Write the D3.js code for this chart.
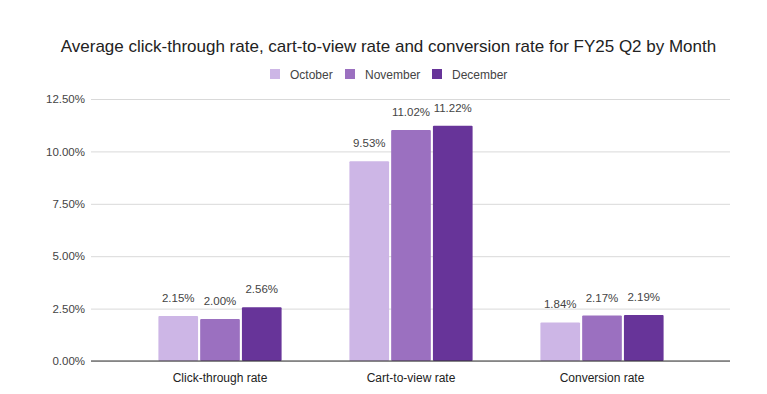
<!DOCTYPE html>
<html><head><meta charset="utf-8">
<script src="https://cdn.jsdelivr.net/npm/d3@7"></script>
<style>body{margin:0;background:#fff;} svg text{font-family:"Liberation Sans",Arial,sans-serif;}</style>
</head><body><svg id="c" width="767" height="394"></svg>
<script>
const categories = ["Click-through rate", "Cart-to-view rate", "Conversion rate"];
const seriesNames = ["October", "November", "December"];
const october = [2.15, 9.53, 1.84];
const november = [2.00, 11.02, 2.17];
const december = [2.56, 11.22, 2.19];
const seriesColors = ["#cdb6e6", "#9b70c0", "#673499"];
const yTicks = [0, 2.5, 5, 7.5, 10, 12.5];
const title = "Average click-through rate, cart-to-view rate and conversion rate for FY25 Q2 by Month";

const values = [october, november, december];
const svg = d3.select("#c");
const W = 767, H = 394;
svg.append("rect").attr("width", W).attr("height", H).attr("fill", "#fff");

const y = d3.scaleLinear().domain([0, 12.5]).range([361, 99]);
const gridX0 = 91, gridX1 = 730;
const x0 = d3.scaleBand().domain(categories).range([124.5, 697.5]).paddingInner(0.355).paddingOuter(0.1775);
const x1 = d3.scaleBand().domain(seriesNames).range([0, x0.bandwidth()]).paddingInner(0.05);

// gridlines
const yAxis = d3.axisLeft(y).tickValues(yTicks).tickFormat(d => d3.format(".2f")(d) + "%").tickSize(-(gridX1 - gridX0)).tickPadding(6);
const ga = svg.append("g").attr("transform", `translate(${gridX0},0)`).call(yAxis);
ga.select(".domain").remove();
ga.selectAll(".tick line").attr("stroke", "#d9d9d9").attr("stroke-width", 1);
ga.selectAll(".tick text").attr("fill", "#444").style("font-size", "11.5px").style("font-family", "'Liberation Sans', Arial, sans-serif");

// bars
const groups = svg.append("g").selectAll("g").data(categories).join("g")
  .attr("transform", d => `translate(${x0(d)},0)`);
groups.selectAll("rect").data((c, i) => seriesNames.map((s, j) => ({s, v: values[j][i], j})))
  .join("rect")
  .attr("x", d => x1(d.s)).attr("width", x1.bandwidth())
  .attr("y", d => y(d.v)).attr("height", d => y(0) - y(d.v))
  .attr("fill", d => seriesColors[d.j]).attr("rx", 1);
groups.selectAll("text").data((c, i) => seriesNames.map((s, j) => ({s, v: values[j][i], j})))
  .join("text")
  .attr("x", d => x1(d.s) + x1.bandwidth() / 2)
  .attr("y", d => y(d.v) - 14)
  .attr("text-anchor", "middle").attr("fill", "#444")
  .style("font-size", "11.5px")
  .text(d => d3.format(".2f")(d.v) + "%");

// baseline
svg.append("line").attr("x1", gridX0).attr("x2", gridX1).attr("y1", y(0)).attr("y2", y(0)).attr("stroke", "#333").attr("stroke-width", 1);

// x axis labels
const xAxis = d3.axisBottom(x0).tickSize(0).tickPadding(12);
const gx = svg.append("g").attr("transform", `translate(0,${y(0)})`).call(xAxis);
gx.select(".domain").remove();
gx.selectAll("text").attr("fill", "#222").style("font-size", "12px").style("font-family", "'Liberation Sans', Arial, sans-serif");

// title
svg.append("text").attr("x", 388.5).attr("y", 52).attr("text-anchor", "middle")
  .attr("fill", "#222").style("font-size", "17px").text(title);

// legend
const legendX = [270, 345, 432];
const lg = svg.append("g").selectAll("g").data(seriesNames).join("g")
  .attr("transform", (d, i) => `translate(${legendX[i]},69)`);
lg.append("rect").attr("width", 10).attr("height", 10).attr("fill", (d, i) => seriesColors[i]);
lg.append("text").attr("x", 20).attr("y", 9.5).attr("fill", "#444").style("font-size", "12px").text(d => d);
</script></body></html>
